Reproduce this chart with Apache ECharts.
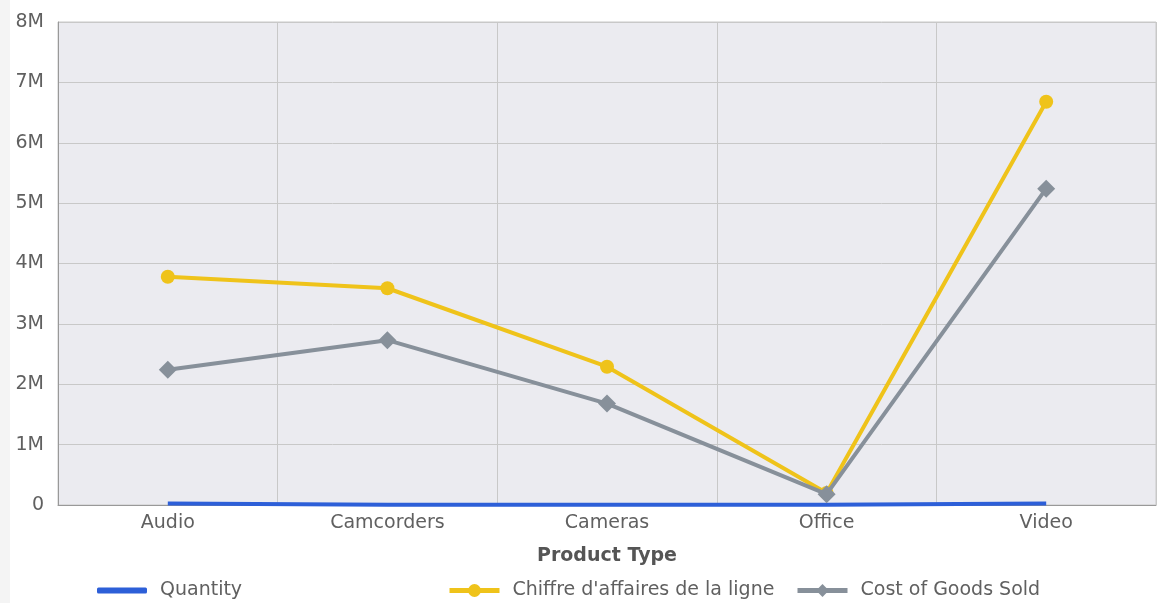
<!DOCTYPE html>
<html><head><meta charset="utf-8">
<script src="https://cdn.jsdelivr.net/npm/echarts@6/dist/echarts.min.js"></script>
<style>html,body{margin:0;padding:0;background:#fff}#c{width:1157px;height:603px}</style>
</head><body><div id="c"></div>
<script>
const categories = ['Audio','Camcorders','Cameras','Office','Video'];
const quantity = [25000, 5000, 4000, 6000, 25000];
const revenue = [3780000, 3590000, 2290000, 200000, 6680000];
const cogs = [2240000, 2730000, 1680000, 180000, 5240000];
const yTicks = ['0','1M','2M','3M','4M','5M','6M','7M','8M'];

const font = '"DejaVu Sans", sans-serif';
const txt = '#606060';
const chart = echarts.init(document.getElementById('c'));
const legendBase = {bottom: -2, itemWidth: 50, itemHeight: 16, itemGap: 12,
  lineStyle: {width: 5},
  textStyle: {fontFamily: font, fontSize: 19, color: txt, padding: [0, 0, 0, 8]}};
chart.setOption({
  animation: false,
  graphic: [{type: 'rect', left: 0, top: 0, shape: {width: 10, height: 603}, style: {fill: '#f4f4f4'}, z: -1}],
  grid: {left: 58, right: 1, top: 22, bottom: 98, show: true, backgroundColor: '#EBEBF0', borderColor: '#c8c8c8', borderWidth: 1},
  legend: [
    Object.assign({}, legendBase, {left: 92, data: ['Quantity'], icon: 'roundRect', itemHeight: 6}),
    Object.assign({}, legendBase, {left: 442, data: ["Chiffre d'affaires de la ligne"]}),
    Object.assign({}, legendBase, {left: 790, data: ['Cost of Goods Sold']})
  ],
  xAxis: {
    type: 'category', data: categories, boundaryGap: true,
    name: 'Product Type', nameLocation: 'middle', nameGap: 42,
    nameTextStyle: {fontFamily: font, fontSize: 19, fontWeight: 'bold', color: '#555'},
    axisLine: {lineStyle: {color: '#999', width: 1}},
    axisTick: {show: false},
    axisLabel: {fontFamily: font, fontSize: 19, color: txt, margin: 9},
    splitLine: {show: true, lineStyle: {color: '#c8c8c8', width: 1}}
  },
  yAxis: {
    type: 'value', min: 0, max: 8000000, interval: 1000000,
    axisLine: {show: true, lineStyle: {color: '#999', width: 1}},
    axisTick: {show: false},
    axisLabel: {fontFamily: font, fontSize: 19, color: txt, margin: 14,
      formatter: v => yTicks[Math.round(v / 1000000)]},
    splitLine: {lineStyle: {color: '#c8c8c8', width: 1}}
  },
  series: [
    {name: 'Quantity', type: 'line', data: quantity, symbol: 'none',
      lineStyle: {color: '#2D5FD8', width: 4}, itemStyle: {color: '#2D5FD8'}, z: 3},
    {name: "Chiffre d'affaires de la ligne", type: 'line', data: revenue, symbol: 'circle', symbolSize: 14,
      lineStyle: {color: '#EFC31A', width: 4}, itemStyle: {color: '#EFC31A'}, z: 4},
    {name: 'Cost of Goods Sold', type: 'line', data: cogs, symbol: 'diamond', symbolSize: 18,
      lineStyle: {color: '#87909A', width: 4}, itemStyle: {color: '#87909A'}, z: 5}
  ]
});
</script></body></html>
